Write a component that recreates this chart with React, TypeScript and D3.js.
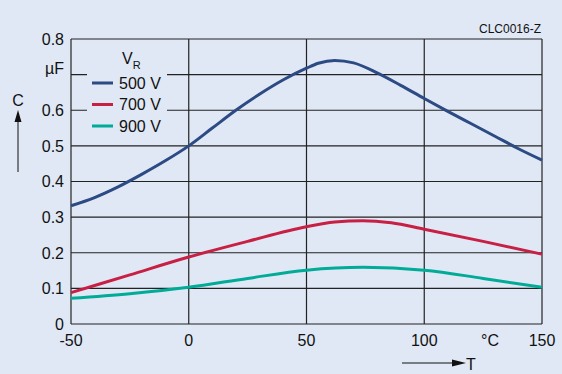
import React from 'react';
import * as d3 from 'd3';

const tempTicks = [-50, 0, 50, 100, 150];
const capTicks = [0, 0.1, 0.2, 0.3, 0.4, 0.5, 0.6, 0.7, 0.8];
const capLabels = ['0', '0.1', '0.2', '0.3', '0.4', '0.5', '0.6', 'µF', '0.8'];

const series500T = [-50, -40, -30, -20, -10, 0, 10, 20, 30, 40, 50, 55, 62, 70, 80, 90, 100, 110, 120, 130, 140, 150];
const series500C = [0.332, 0.355, 0.385, 0.42, 0.458, 0.5, 0.55, 0.6, 0.645, 0.685, 0.718, 0.732, 0.74, 0.733, 0.705, 0.67, 0.633, 0.597, 0.562, 0.527, 0.492, 0.46];
const series700T = [-50, -25, 0, 25, 50, 62, 74, 86, 100, 125, 150];
const series700C = [0.088, 0.138, 0.188, 0.232, 0.273, 0.286, 0.29, 0.284, 0.266, 0.232, 0.196];
const series900T = [-50, -25, 0, 25, 50, 74, 100, 125, 150];
const series900C = [0.072, 0.085, 0.103, 0.128, 0.151, 0.159, 0.151, 0.128, 0.103];

const legendNames = ['500 V', '700 V', '900 V'];
const colors = ['#2c4a83', '#c81f45', '#00ab97'];

const bg = '#e0e8f5';
const font = 'Liberation Sans, Arial, sans-serif';

export default function App() {
  const x = d3.scaleLinear().domain([-50, 150]).range([71, 542]);
  const y = d3.scaleLinear().domain([0, 0.8]).range([324, 39]);

  const line = d3.line<[number, number]>()
    .x(d => x(d[0]))
    .y(d => y(d[1]))
    .curve(d3.curveMonotoneX);

  const data = [
    d3.zip(series500T, series500C) as [number, number][],
    d3.zip(series700T, series700C) as [number, number][],
    d3.zip(series900T, series900C) as [number, number][],
  ];

  return (
    <svg width={562} height={374} style={{ position: 'absolute', left: 0, top: 0 }}>
      <rect width={562} height={374} fill={bg} />
      {capTicks.map(v => (
        <line key={'h' + v} x1={71} x2={542} y1={y(v)} y2={y(v)} stroke="#222" strokeWidth={1.2} />
      ))}
      {tempTicks.map(t => (
        <line key={'v' + t} x1={x(t)} x2={x(t)} y1={39} y2={324} stroke="#222" strokeWidth={1.2} />
      ))}
      <rect x={87} y={42} width={80} height={94} fill={bg} />
      {data.map((d, i) => (
        <path key={i} d={line(d) || ''} fill="none" stroke={colors[i]} strokeWidth={3} />
      ))}
      <g fontFamily={font} fontSize={16} fill="#111">
        {capTicks.map((v, i) => (
          <text key={'yl' + v} x={64} y={i === 7 ? y(v) - 6 : y(v)} dy="0.36em" textAnchor="end">{capLabels[i]}</text>
        ))}
        {tempTicks.map(t => (
          <text key={'xl' + t} x={x(t)} y={346} textAnchor="middle">{t}</text>
        ))}
        <text x={490} y={346} textAnchor="middle">°C</text>
        <text x={466} y={370}>T</text>
        <text x={18} y={106} textAnchor="middle">C</text>
        <text x={122} y={64}>V<tspan fontSize={11} dy={5}>R</tspan></text>
        {legendNames.map((n, i) => (
          <g key={n}>
            <line x1={92} x2={113} y1={83 + i * 21.5} y2={83 + i * 21.5} stroke={colors[i]} strokeWidth={3} />
            <text x={119} y={83 + i * 21.5} dy="0.36em">{n}</text>
          </g>
        ))}
      </g>
      <line x1={18} x2={18} y1={172} y2={120} stroke="#111" strokeWidth={1} />
      <path d="M18,110 L14.5,122 L21.5,122 Z" fill="#111" />
      <line x1={402} x2={456} y1={363} y2={363} stroke="#111" strokeWidth={1} />
      <path d="M466,363 L452,359.5 L452,366.5 Z" fill="#111" />
      <text x={541} y={33} textAnchor="end" fontFamily={font} fontSize={12} fill="#111">CLC0016-Z</text>
    </svg>
  );
}
